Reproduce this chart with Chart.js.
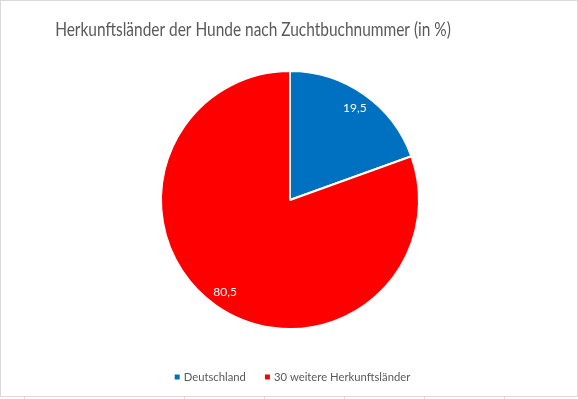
<!DOCTYPE html>
<html>
<head>
<meta charset="utf-8">
<script src="https://cdn.jsdelivr.net/npm/chart.js@4"></script>
<style>
html,body{margin:0;padding:0;background:#fff;}
#wrap{position:relative;width:578px;height:399px;overflow:hidden;}
#c{position:absolute;left:0;top:0;}
.bl{position:absolute;background:#d9d9d9;}
</style>
</head>
<body>
<div id="wrap">
<canvas id="c" width="578" height="399"></canvas>
<div class="bl" style="left:0;top:0;width:578px;height:1px"></div>
<div class="bl" style="left:0;top:0;width:1px;height:397px"></div>
<div class="bl" style="left:577px;top:0;width:1px;height:397px"></div>
<div class="bl" style="left:0;top:396px;width:578px;height:1px"></div>
<div class="bl" style="left:24px;top:397px;width:1px;height:2px"></div>
<div class="bl" style="left:184px;top:397px;width:1px;height:2px"></div>
<div class="bl" style="left:264px;top:397px;width:1px;height:2px"></div>
<div class="bl" style="left:344px;top:397px;width:1px;height:2px"></div>
<div class="bl" style="left:424px;top:397px;width:1px;height:2px"></div>
<div class="bl" style="left:504px;top:397px;width:1px;height:2px"></div>
</div>
<script>
const titleText = "Herkunftsländer der Hunde nach Zuchtbuchnummer (in %)";
const categories = ["Deutschland", "30 weitere Herkunftsländer"];
const values = [19.5, 80.5];
const valueLabels = ["19,5", "80,5"];
const colors = ["#0070C0", "#FF0000"];

const FONT = "Lato, 'Open Sans', sans-serif";

const customPlugin = {
  id: 'custom',
  afterDraw(chart) {
    const ctx = chart.ctx;
    ctx.save();
    // title (horizontally condensed to mimic the narrow original face)
    ctx.fillStyle = '#595959';
    ctx.font = "18.5px " + FONT;
    ctx.textAlign = 'center';
    ctx.textBaseline = 'middle';
    ctx.save();
    ctx.translate(253, 30);
    ctx.scale(0.835, 1);
    ctx.fillText(titleText, 0, 0);
    ctx.restore();
    // data labels
    const meta = chart.getDatasetMeta(0);
    ctx.font = "12px " + FONT;
    ctx.fillStyle = '#ffffff';
    meta.data.forEach((arc, i) => {
      const p = arc.getProps(['x','y','startAngle','endAngle','outerRadius'], true);
      const mid = (p.startAngle + p.endAngle) / 2;
      const r = p.outerRadius * 0.875;
      ctx.fillText(valueLabels[i], p.x + Math.cos(mid) * r, p.y + Math.sin(mid) * r);
    });
    // legend
    ctx.font = "12px " + FONT;
    ctx.textAlign = 'left';
    const sx = 0.94;
    const box = 5, gapBoxText = 4, gapItems = 19;
    const widths = categories.map(t => ctx.measureText(t).width * sx);
    let total = 0;
    widths.forEach((w, i) => { total += box + gapBoxText + w + (i < widths.length - 1 ? gapItems : 0); });
    let x = 292.5 - total / 2;
    const y = 377;
    categories.forEach((t, i) => {
      ctx.fillStyle = colors[i];
      ctx.fillRect(x, y - box / 2, box, box);
      x += box + gapBoxText;
      ctx.fillStyle = '#595959';
      ctx.save();
      ctx.translate(x, y);
      ctx.scale(sx, 1);
      ctx.fillText(t, 0, 0);
      ctx.restore();
      x += widths[i] + gapItems;
    });
    ctx.restore();
  }
};

new Chart(document.getElementById('c'), {
  type: 'pie',
  data: {
    labels: categories,
    datasets: [{
      data: values,
      backgroundColor: colors,
      borderColor: '#ffffff',
      borderWidth: 2
    }]
  },
  options: {
    responsive: false,
    animation: false,
    layout: { padding: { left: 2, right: 0, top: 70, bottom: 69 } },
    plugins: {
      legend: { display: false },
      title: { display: false },
      tooltip: { enabled: false }
    }
  },
  plugins: [customPlugin]
});
</script>
</body>
</html>
